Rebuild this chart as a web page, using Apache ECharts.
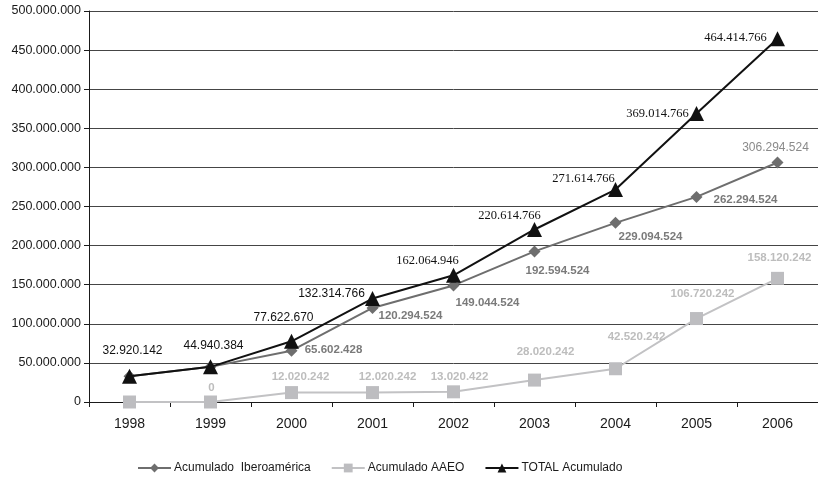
<!DOCTYPE html>
<html>
<head>
<meta charset="utf-8">
<script src="https://cdn.jsdelivr.net/npm/echarts@6/dist/echarts.min.js"></script>
<style>
  html, body { margin: 0; padding: 0; background: #fff; }
  #chart { width: 818px; height: 483px; }
</style>
</head>
<body>
<div id="chart"></div>
<script>
// Years on the horizontal axis
const years = ['1998', '1999', '2000', '2001', '2002', '2003', '2004', '2005', '2006'];

// Cumulative amounts per series
const iberoamerica = [32920142, 44940384, 65602428, 120294524, 149044524, 192594524, 229094524, 262294524, 306294524];
const aaeo = [0, 0, 12020242, 12020242, 13020422, 28020242, 42520242, 106720242, 158120242];
const total = [32920142, 44940384, 77622670, 132314766, 162064946, 220614766, 271614766, 369014766, 464414766];

const seriesNames = ['Acumulado  Iberoamérica', 'Acumulado AAEO', 'TOTAL Acumulado'];

// Label placement around each point (dx, dy from the marker centre); null hides the label
const iberoLabelShift = [null, null, [42, -1], [38, 8], [34, 17], [23, 19], [35, 14], [49, 3], [-2, -15]];
const aaeoLabelShift = [null, [1, -14], [9, -16], [15, -16], [6, -15], [11, -28], [21, -32], [6, -25], [2, -21]];
const totalLabelShift = [[3, -26], [3, -21], [-8, -24], [-41, -5], [-26, -15], [-25, -14], [-32, -11], [-39, 0], [-42, -1]];
const totalLabelSerif = [false, false, false, false, true, true, true, true, true];

function fmt(v) {
  return String(v).replace(/\B(?=(\d{3})+(?!\d))/g, '.');
}

function withLabels(values, shifts, styleFor) {
  return values.map(function (v, i) {
    const s = shifts[i];
    if (!s) return { value: v, label: { show: false } };
    return {
      value: v,
      label: Object.assign({ show: true, position: 'inside', offset: s }, styleFor ? styleFor(i) : {})
    };
  });
}

const chart = echarts.init(document.getElementById('chart'), null, { renderer: 'canvas' });

chart.setOption({
  animation: false,
  backgroundColor: '#ffffff',
  grid: { left: 89, right: -3, top: 11, bottom: 81, containLabel: false },
  legend: {
    left: 137,
    top: 462,
    padding: 0,
    itemWidth: 33,
    itemHeight: 11,
    itemGap: 20,
    textStyle: { fontFamily: 'Liberation Sans, Arial, sans-serif', fontSize: 12, color: '#1a1a1a', padding: [0, 0, 0, -2] },
    data: seriesNames
  },
  xAxis: {
    type: 'category',
    data: years,
    boundaryGap: true,
    axisLine: { lineStyle: { color: '#1a1a1a', width: 1 } },
    axisTick: { show: true, length: 5, lineStyle: { color: '#1a1a1a' } },
    axisLabel: { fontFamily: 'Liberation Sans, Arial, sans-serif', fontSize: 14, color: '#1a1a1a', margin: 15 },
    splitLine: { show: false }
  },
  yAxis: {
    type: 'value',
    min: 0,
    max: 500000000,
    interval: 50000000,
    axisLine: { show: true, lineStyle: { color: '#1a1a1a', width: 1 } },
    axisTick: { show: true, length: 5, lineStyle: { color: '#1a1a1a' } },
    axisLabel: {
      fontFamily: 'Liberation Sans, Arial, sans-serif', fontSize: 12.5, color: '#1a1a1a', margin: 8,
      formatter: fmt
    },
    splitLine: { show: true, lineStyle: { color: '#454545', width: 1 } }
  },
  series: [
    {
      name: seriesNames[0],
      type: 'line',
      z: 3,
      symbol: 'diamond',
      symbolSize: 12,
      itemStyle: { color: '#6e6e6e' },
      lineStyle: { color: '#6e6e6e', width: 2 },
      label: {
        fontFamily: 'Liberation Sans, Arial, sans-serif', fontSize: 11.5, fontWeight: 'bold', color: '#7a7a7a',
        formatter: function (p) { return fmt(p.value); }
      },
      data: withLabels(iberoamerica, iberoLabelShift, function (i) {
        return i === 8 ? { fontWeight: 'normal', fontSize: 12, color: '#8a8a8a' } : {};
      })
    },
    {
      name: seriesNames[1],
      type: 'line',
      z: 2,
      symbol: 'rect',
      symbolSize: 13,
      itemStyle: { color: '#bdbdc0' },
      lineStyle: { color: '#c2c2c4', width: 2 },
      label: {
        fontFamily: 'Liberation Sans, Arial, sans-serif', fontSize: 11.5, fontWeight: 'bold', color: '#bdbdbd',
        formatter: function (p) { return fmt(p.value); }
      },
      data: withLabels(aaeo, aaeoLabelShift)
    },
    {
      name: seriesNames[2],
      type: 'line',
      z: 4,
      symbol: 'triangle',
      symbolSize: 15,
      itemStyle: { color: '#111111' },
      lineStyle: { color: '#111111', width: 2 },
      label: {
        fontSize: 12, color: '#111111',
        formatter: function (p) { return fmt(p.value); }
      },
      data: withLabels(total, totalLabelShift, function (i) {
        return totalLabelSerif[i]
          ? { fontFamily: 'Liberation Serif, Times New Roman, serif', fontSize: 12.5 }
          : { fontFamily: 'Liberation Sans, Arial, sans-serif', fontSize: 12 };
      })
    }
  ]
});
</script>
</body>
</html>
